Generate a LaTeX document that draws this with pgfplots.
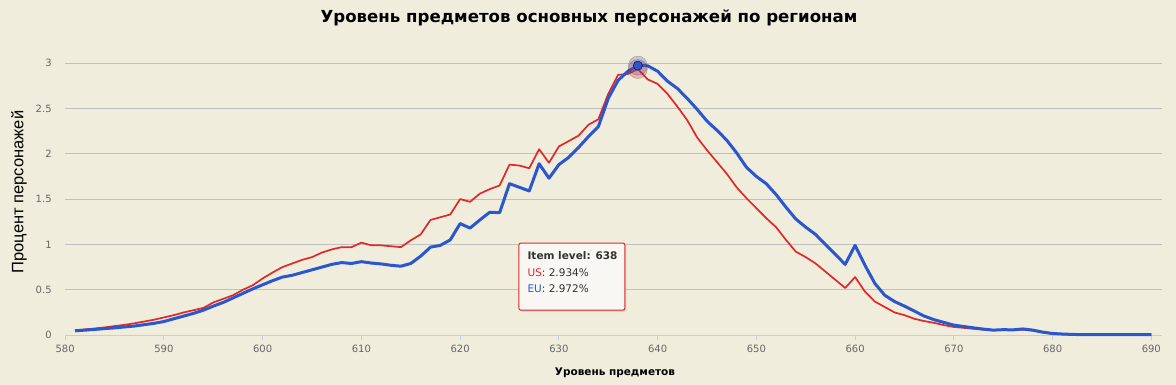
\documentclass[border=0pt]{standalone}
\usepackage{pgfplots}
\pgfplotsset{compat=1.18}
\usepackage{fontspec}
\setmainfont{DejaVu Sans}
\newfontfamily\lib{Liberation Sans}
\usetikzlibrary{shadows}
\definecolor{bg}{RGB}{240,237,221}
\definecolor{gridc}{RGB}{192,192,192}
\definecolor{axisc}{RGB}{192,208,224}
\definecolor{tickc}{RGB}{102,102,102}
\definecolor{usred}{RGB}{224,40,40}
\definecolor{eublue}{RGB}{42,86,206}
\pgfplotstableread{
x us eu
581 0.053 0.048
582 0.063 0.055
583 0.073 0.063
584 0.085 0.072
585 0.100 0.080
586 0.113 0.090
587 0.130 0.100
588 0.150 0.115
589 0.170 0.130
590 0.195 0.150
591 0.220 0.180
592 0.250 0.210
593 0.275 0.240
594 0.300 0.275
595 0.360 0.320
596 0.400 0.360
597 0.440 0.410
598 0.500 0.460
599 0.550 0.510
600 0.625 0.555
601 0.690 0.600
602 0.750 0.640
603 0.790 0.660
604 0.830 0.690
605 0.860 0.720
606 0.910 0.750
607 0.945 0.780
608 0.970 0.800
609 0.970 0.790
610 1.020 0.810
611 0.990 0.795
612 0.990 0.785
613 0.980 0.770
614 0.970 0.760
615 1.045 0.790
616 1.110 0.870
617 1.270 0.970
618 1.300 0.990
619 1.330 1.050
620 1.500 1.230
621 1.470 1.180
622 1.560 1.270
623 1.610 1.355
624 1.650 1.350
625 1.880 1.670
626 1.870 1.630
627 1.840 1.590
628 2.050 1.890
629 1.900 1.730
630 2.080 1.880
631 2.140 1.960
632 2.200 2.070
633 2.320 2.190
634 2.380 2.300
635 2.660 2.610
636 2.870 2.810
637 2.880 2.910
638 2.934 2.972
639 2.820 2.970
640 2.770 2.910
641 2.660 2.800
642 2.520 2.720
643 2.370 2.610
644 2.180 2.490
645 2.040 2.360
646 1.910 2.260
647 1.780 2.150
648 1.630 2.010
649 1.510 1.850
650 1.400 1.750
651 1.290 1.670
652 1.190 1.550
653 1.050 1.410
654 0.920 1.280
655 0.860 1.190
656 0.790 1.110
657 0.700 1.000
658 0.610 0.890
659 0.520 0.780
660 0.640 0.990
661 0.480 0.770
662 0.370 0.570
663 0.310 0.440
664 0.250 0.370
665 0.220 0.320
666 0.180 0.265
667 0.155 0.210
668 0.135 0.170
669 0.110 0.140
670 0.090 0.110
671 0.080 0.095
672 0.070 0.080
673 0.060 0.066
674 0.055 0.055
675 0.055 0.060
676 0.055 0.058
677 0.060 0.068
678 0.050 0.055
679 0.030 0.033
680 0.015 0.018
681 0.010 0.012
682 0.005 0.008
683 0.005 0.005
684 0.005 0.005
685 0.005 0.005
686 0.005 0.005
687 0.005 0.005
688 0.005 0.005
689 0.005 0.005
690 0.005 0.005
}\datatable
\begin{document}
\begin{tikzpicture}[x=1pt,y=1pt]
\fill[bg] (0,0) rectangle (1176,385);
\useasboundingbox (0,0) rectangle (1176,385);
\begin{axis}[
  at={(66,55.0)}, anchor=south west,
  scale only axis, width=1097pt, height=290.2pt,
  xmin=580, xmax=691.1, ymin=0, ymax=3.2,
  axis x line*=bottom, axis y line*=left,
  x axis line style={draw=axisc, line width=1pt},
  y axis line style={draw=none},
  xtick={580,590,...,690},
  ytick={0,0.5,1,1.5,2,2.5,3},
  yticklabels={0,0.5,1,1.5,2,2.5,3},
  xticklabels={580,590,600,610,620,630,640,650,660,670,680,690},
  xtick align=outside,
  ytick align=inside,
  major tick length=5pt,
  xtick style={draw=axisc, line width=1pt},
  ytick style={draw=none},
  ymajorgrids,
  grid style={draw=gridc, line width=1pt},
  ticklabel style={font=\fontsize{10}{12}\selectfont, text=tickc},
  xticklabel style={yshift=-1pt},
  yticklabel style={anchor=east, xshift=-10pt},
  clip=false,
]
\addplot[usred, line width=1.7pt, line join=round] table[x=x,y=us] {\datatable};
\addplot[eublue, line width=3pt, line join=round] table[x=x,y=eu] {\datatable};
\addplot[only marks, mark=*, mark size=9.5pt, mark options={fill=usred, draw=none, opacity=0.28}] coordinates {(638,2.934)};
\addplot[only marks, mark=*, mark size=9.5pt, mark options={fill=eublue, draw=none, opacity=0.25}] coordinates {(638,2.972)};
\addplot[only marks, mark=*, mark size=4.6pt, mark options={fill=eublue, draw=none}] coordinates {(638,2.972)};
\node[anchor=north west, draw=usred, line width=1pt, fill={rgb,255:red,248;green,247;blue,243}, rounded corners=2pt,
      drop shadow={opacity=0.25, shadow xshift=1.5pt, shadow yshift=-1.5pt},
      minimum width=106pt, minimum height=67pt, inner sep=0pt] (tt) at (axis cs:625.9,1.02) {};
\node[anchor=north west, align=left, inner sep=0pt, font=\fontsize{10.5}{16.5}\selectfont, text={rgb,255:red,51;green,51;blue,51}]
  at ([xshift=9pt,yshift=-9pt]tt.north west)
  {\textbf{Item level: 638}\\ \textcolor{usred}{US}: 2.934\%\\ \textcolor{eublue}{EU}: 2.972\%};
\end{axis}
\node[font=\fontsize{16.6}{19}\selectfont\bfseries] at (589,367) {Уровень предметов основных персонажей по регионам};
\node[font=\fontsize{10.5}{13}\selectfont\bfseries] at (615,12) {Уровень предметов};
\node[rotate=90, font=\lib\fontsize{16.5}{19}\selectfont] at (19,193) {Процент персонажей};
\end{tikzpicture}
\end{document}
